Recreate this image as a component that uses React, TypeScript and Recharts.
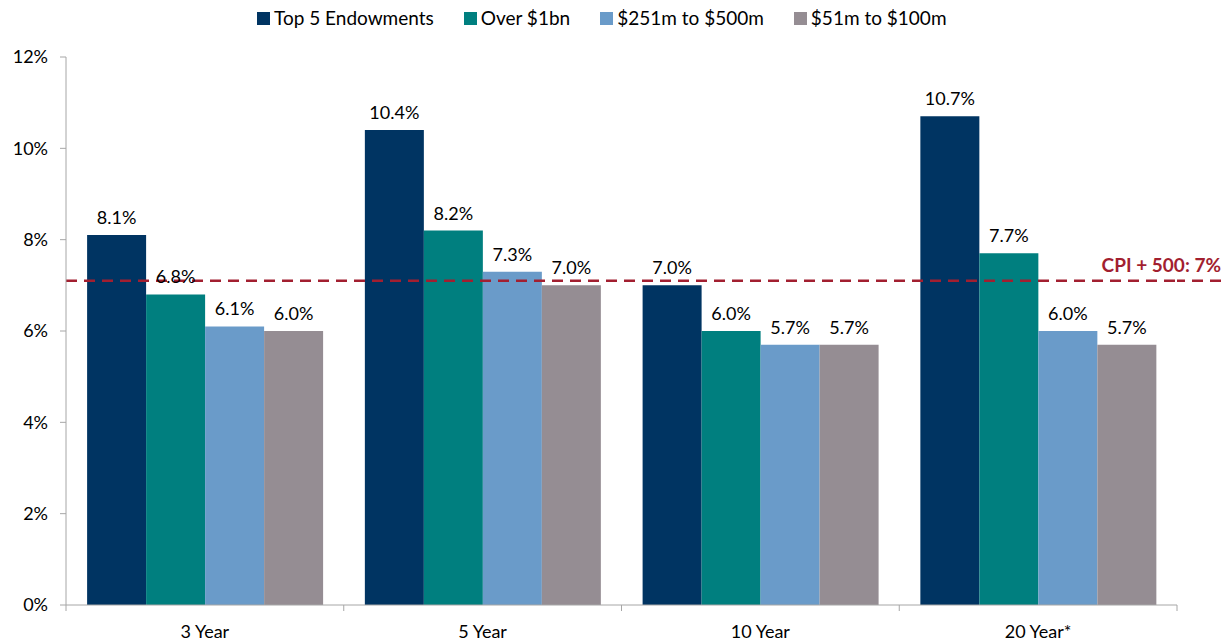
import React from "react";
import {
  BarChart,
  Bar,
  XAxis,
  YAxis,
  ReferenceLine,
  LabelList,
} from "recharts";

const categories = ["3 Year", "5 Year", "10 Year", "20 Year*"];
const top5 = [8.1, 10.4, 7.0, 10.7];
const over1bn = [6.8, 8.2, 6.0, 7.7];
const mid = [6.1, 7.3, 5.7, 6.0];
const small = [6.0, 7.0, 5.7, 5.7];
const yTicks = [0, 2, 4, 6, 8, 10, 12];
const cpiValue = 7.1;
const cpiLabel = "CPI + 500: 7%";

const seriesNames = ["Top 5 Endowments", "Over $1bn", "$251m to $500m", "$51m to $100m"];
const seriesKeys = ["top5", "over1bn", "mid", "small"];
const colors = ["#003462", "#007f7f", "#6a9bc9", "#958d93"];

const data = categories.map((c, i) => ({
  name: c,
  top5: top5[i],
  over1bn: over1bn[i],
  mid: mid[i],
  small: small[i],
}));

const FONT = "Lato, 'Open Sans', sans-serif";

const LegendBox = () => (
  <div
    style={{
      position: "absolute",
      left: 257,
      top: 6,
      display: "flex",
      fontFamily: FONT,
      fontSize: 19,
      lineHeight: "24px",
      color: "#000",
      whiteSpace: "nowrap",
    }}
  >
    {seriesNames.map((n, i) => (
      <div key={n} style={{ display: "flex", alignItems: "center", marginRight: 30 }}>
        <span style={{ display: "inline-block", width: 13, height: 13, background: colors[i], marginRight: 4 }} />
        <span>{n}</span>
      </div>
    ))}
  </div>
);

const XTick = (props: any) => {
  const { x, y, payload, index, visibleTicksCount } = props;
  const off = payload.offset || 0;
  return (
    <g>
      <line x1={x - off} x2={x - off} y1={y} y2={y + 6} stroke="#a6a6a6" />
      {index === visibleTicksCount - 1 && (
        <line x1={x + off} x2={x + off} y1={y} y2={y + 6} stroke="#a6a6a6" />
      )}
      <text x={x} y={y + 33} textAnchor="middle" fontFamily={FONT} fontSize={18} fill="#000">
        {payload.value}
      </text>
    </g>
  );
};

const CpiLabel = (props: any) => {
  const { viewBox } = props;
  const x2 = viewBox.x + viewBox.width;
  return (
    <g>
      <line x1={x2} x2={x2 + 44} y1={viewBox.y} y2={viewBox.y} stroke="#a21f30" strokeWidth={2.5} strokeDasharray="11 7" strokeDashoffset={3} />
      <text x={x2 + 44} y={viewBox.y - 9} textAnchor="end" fontFamily={FONT} fontWeight="bold" fontSize={19} fill="#a21f30">
        {cpiLabel}
      </text>
    </g>
  );
};

export default function App() {
  return (
    <div style={{ position: "absolute", left: 0, top: 0, width: 1231, height: 642, background: "#fff" }}>
      <LegendBox />
      <BarChart
        width={1231}
        height={642}
        data={data}
        margin={{ top: 57, right: 54, bottom: 7, left: 6 }}
        barCategoryGap="7.6%"
        barGap={0}
      >
        <XAxis
          dataKey="name"
          axisLine={{ stroke: "#a6a6a6" }}
          tickLine={false}
          tickSize={0}
          tickMargin={0}
          tick={<XTick />}
          height={30}
          interval={0}
        />
        <YAxis
          domain={[0, 12]}
          ticks={yTicks}
          width={60}
          axisLine={{ stroke: "#a6a6a6" }}
          tickLine={{ stroke: "#a6a6a6" }}
          tickSize={6}
          tickMargin={12}
          tickFormatter={(v: number) => `${v}%`}
          tick={{ fill: "#000", fontFamily: FONT, fontSize: 18 }}
          allowDataOverflow
        />
        {seriesKeys.map((k, i) => (
          <Bar key={k} dataKey={k} name={seriesNames[i]} fill={colors[i]} isAnimationActive={false}>
            <LabelList
              dataKey={k}
              position="top"
              offset={11}
              formatter={(v: number) => `${v.toFixed(1)}%`}
              style={{ fill: "#000", fontFamily: FONT, fontSize: 18 }}
            />
          </Bar>
        ))}
        <ReferenceLine
          y={cpiValue}
          stroke="#a21f30"
          strokeWidth={2.5}
          strokeDasharray="11 7"
          label={<CpiLabel />}
        />
      </BarChart>
    </div>
  );
}
